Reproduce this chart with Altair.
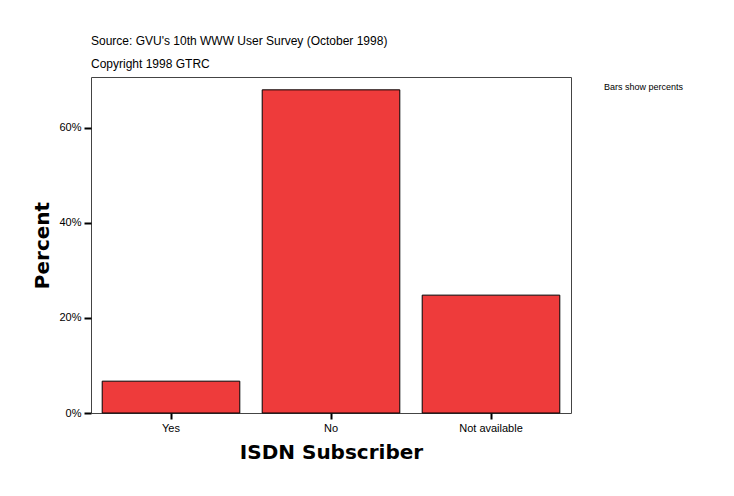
import altair as alt
import pandas as pd

categories = ["Yes", "No", "Not available"]
percents = [0.067, 0.680, 0.248]

df = pd.DataFrame({"cat": categories, "pct": percents})

bars = alt.Chart(df).mark_bar(color="#EE3B3B", stroke="black", strokeWidth=1).encode(
    x=alt.X("cat:N", sort=categories, title="ISDN Subscriber",
            scale=alt.Scale(paddingInner=0.14, paddingOuter=0.07),
            axis=alt.Axis(labelAngle=0, labelFontSize=11, labelFont="Liberation Sans",
                          labelColor="black", tickColor="black", tickWidth=2, tickSize=6,
                          domain=False, labelPadding=3,
                          titleFont="DejaVu Sans", titleFontSize=20, titleFontWeight="bold",
                          titleColor="black", titlePadding=9)),
    y=alt.Y("pct:Q", title="Percent",
            scale=alt.Scale(domain=[0, 0.707], nice=False),
            axis=alt.Axis(format=".0%", values=[0, 0.2, 0.4, 0.6], labelFontSize=11,
                          labelFont="Liberation Sans", labelColor="black",
                          tickColor="black", tickWidth=2, tickSize=7, domain=False,
                          grid=False, labelPadding=3,
                          titleFont="DejaVu Sans", titleFontSize=20, titleFontWeight="bold",
                          titleColor="black", titlePadding=6)),
)

notes = pd.DataFrame({
    "t": ["Source: GVU's 10th WWW User Survey (October 1998)", "Copyright 1998 GTRC"],
    "yy": [-36, -13],
})
titles = alt.Chart(notes).mark_text(align="left", baseline="middle", font="Liberation Sans",
                                    fontSize=12, color="black").encode(
    x=alt.value(0), y=alt.Y("yy:Q", scale=None), text="t:N")

side = alt.Chart(pd.DataFrame({"t": ["Bars show percents"]})).mark_text(
    align="left", baseline="middle", font="Liberation Sans", fontSize=9, color="black").encode(
    x=alt.value(513), y=alt.value(10), text="t:N")

chart = alt.layer(bars, titles, side).properties(
    width=480, height=336,
    background="white",
    autosize=alt.AutoSizeParams(type="none"),
    padding={"left": 83, "top": 69, "right": 150, "bottom": 70},
).configure_view(stroke="#444444", strokeWidth=1)

chart.save("out.html", embed_options={"renderer": "svg", "actions": False})
